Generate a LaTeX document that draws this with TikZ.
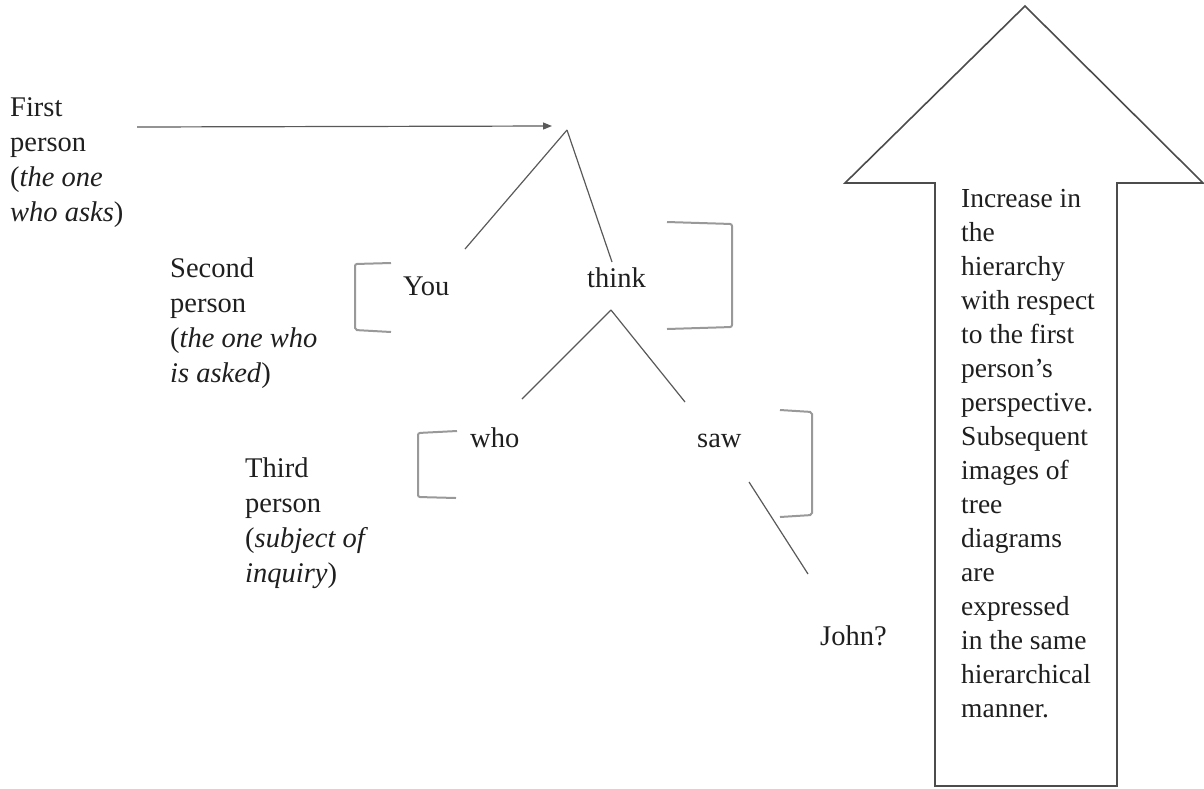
\documentclass[tikz,border=0pt]{standalone}
\usepackage{fontspec}
\setmainfont{Liberation Serif}
\usetikzlibrary{arrows.meta}
\newcommand{\lbl}{\fontsize{28.5}{35}\selectfont}
\newcommand{\arw}{\fontsize{27.5}{34}\selectfont}
\begin{document}
\begin{tikzpicture}[x=1pt,y=-1pt,
  txt/.style={inner sep=0pt,anchor=base west,text=black!88},
  treeline/.style={draw=black!65,line width=1.2pt},
  bracketline/.style={draw=black!40,line width=2pt,rounded corners=2pt},
  bigarrow/.style={draw=black!70,line width=1.6pt,fill=white}]
\useasboundingbox (0,0) rectangle (1204,788);
% labels
\node[txt] (first) at (10,116) {\lbl\begin{tabular}[t]{@{}l@{}}First\\person\\(\textit{the one}\\\textit{who asks})\end{tabular}};
\node[txt] (second) at (170,277) {\lbl\begin{tabular}[t]{@{}l@{}}Second\\person\\(\textit{the one who}\\\textit{is asked})\end{tabular}};
\node[txt] (third) at (245,477) {\lbl\begin{tabular}[t]{@{}l@{}}Third\\person\\(\textit{subject of}\\\textit{inquiry})\end{tabular}};
% words
\node[txt] (you) at (403,295) {\lbl You};
\node[txt] (think) at (587,287) {\lbl think};
\node[txt] (who) at (470,447) {\lbl who};
\node[txt] (saw) at (697,447) {\lbl saw};
\node[txt] (john) at (820,645) {\lbl John?};
% tree coordinates
\coordinate (arrstart) at (137,127);
\coordinate (arrend) at (552,126);
\coordinate (root) at (567,130);
\coordinate (youtop) at (465,249);
\coordinate (thinktop) at (612,262);
\coordinate (thinkbot) at (611,310);
\coordinate (whotop) at (522,399);
\coordinate (sawtop) at (685,402);
\coordinate (sawbot) at (749,482);
\coordinate (johntop) at (808,574);
\draw[treeline,-{Triangle[length=9pt,width=7pt]}] (arrstart) -- (arrend);
\draw[treeline] (root) -- (youtop);
\draw[treeline] (root) -- (thinktop);
\draw[treeline] (thinkbot) -- (whotop);
\draw[treeline] (thinkbot) -- (sawtop);
\draw[treeline] (sawbot) -- (johntop);
% brackets
\draw[bracketline] (391,263) -- (355,264) -- (355,330) -- (391,332);
\draw[bracketline] (667,222) -- (732,224) -- (732,327) -- (667,329);
\draw[bracketline] (457,431) -- (418,433) -- (418,497) -- (456,498);
\draw[bracketline] (780,410) -- (812,412) -- (812,515) -- (780,517);
% big arrow
\draw[bigarrow] (1025,6) -- (1203,183) -- (1117,183) -- (1117,786) -- (935,786) -- (935,183) -- (845,183) -- cycle;
\node[txt] (arrowtext) at (961,207) {\arw\begin{tabular}[t]{@{}l@{}}Increase in\\the\\hierarchy\\with respect\\to the first\\person's\\perspective.\\Subsequent\\images of\\tree\\diagrams\\are\\expressed\\in the same\\hierarchical\\manner.\end{tabular}};
\end{tikzpicture}
\end{document}
